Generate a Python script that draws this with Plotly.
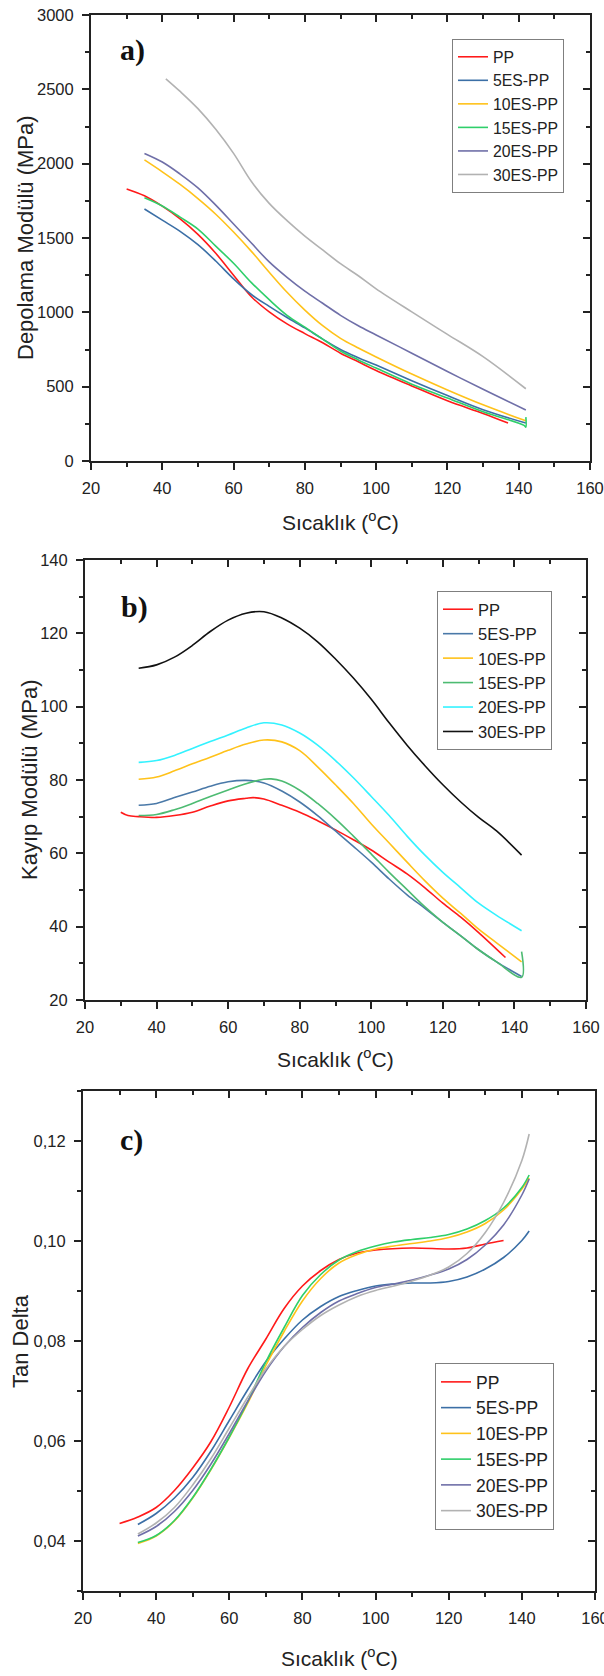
import plotly.graph_objects as go

W, H = 604, 1676

names = ["PP", "5ES-PP", "10ES-PP", "15ES-PP", "20ES-PP", "30ES-PP"]
colors_ac = ["#ff1a1a", "#3b6fa6", "#ffc21a", "#2fcf6a", "#6f6fa8", "#b2b2b2"]
colors_b = ["#ff1a1a", "#4a79a8", "#ffc21a", "#4dbb72", "#33f2ff", "#111111"]

# ---------------- Panel a: Depolama Modülü (MPa) ----------------
a_T_PP = [30, 35, 40, 45, 50, 55, 60, 65, 70, 75, 80, 85, 90, 95, 100, 110, 120, 130, 137]
a_PP = [1830, 1784, 1714, 1628, 1524, 1397, 1250, 1105, 1003, 922, 857, 795, 725, 667, 609, 505, 405, 320, 255]

a_T = [35, 40, 45, 50, 55, 60, 65, 70, 75, 80, 85, 90, 95, 100, 110, 120, 130, 142]
a_5ES = [1695, 1620, 1545, 1455, 1345, 1225, 1120, 1040, 965, 895, 820, 750, 695, 645, 540, 440, 345, 255]
a_10ES = [2025, 1945, 1860, 1765, 1660, 1540, 1410, 1270, 1135, 1015, 910, 825, 760, 700, 585, 478, 378, 270]
a_20ES = [2069, 2011, 1930, 1837, 1721, 1594, 1466, 1339, 1235, 1142, 1061, 980, 910, 848, 725, 602, 482, 343]

a_T_15 = [35, 40, 45, 50, 55, 60, 65, 70, 75, 80, 85, 90, 95, 100, 110, 120, 130, 141.5, 142, 142]
a_15ES = [1770, 1715, 1640, 1560, 1445, 1330, 1200, 1085, 980, 900, 820, 740, 680, 625, 517, 424, 331, 240, 228, 295]

a_T_30 = [41, 45, 50, 55, 60, 65, 70, 75, 80, 85, 90, 95, 100, 110, 120, 130, 142]
a_30ES = [2571, 2486, 2370, 2231, 2069, 1880, 1733, 1617, 1513, 1420, 1327, 1246, 1158, 1003, 852, 702, 486]

# ---------------- Panel b: Kayıp Modülü (MPa) ----------------
b_T_PP = [30, 32, 35, 40, 45, 50, 55, 60, 65, 67, 70, 75, 80, 85, 90, 95, 100, 105, 110, 115, 120, 125, 130, 137.5]
b_PP = [71.2, 70.3, 70.0, 69.8, 70.3, 71.2, 72.9, 74.3, 75.0, 75.2, 74.8, 73.1, 71.2, 68.9, 66.4, 63.7, 60.9, 57.6, 54.4, 50.6, 46.4, 42.6, 38.4, 31.6]

b_T = [35, 40, 45, 50, 55, 60, 65, 70, 75, 80, 85, 90, 95, 100, 105, 110, 115, 120, 125, 130, 135, 142]
b_5ES = [73.1, 73.6, 75.2, 76.7, 78.3, 79.5, 79.9, 79.2, 77.0, 74.0, 70.3, 66.1, 61.9, 57.6, 53.0, 48.7, 45.0, 41.2, 37.5, 33.7, 30.4, 26.4]
b_10ES = [80.2, 80.8, 82.5, 84.4, 86.2, 88.1, 89.8, 90.9, 90.4, 88.0, 83.6, 78.7, 73.6, 68.0, 62.8, 57.6, 52.5, 47.8, 43.6, 39.3, 35.6, 30.4]
b_20ES = [84.8, 85.3, 86.7, 88.6, 90.5, 92.3, 94.2, 95.6, 95.0, 92.8, 89.5, 85.3, 80.6, 75.5, 70.3, 64.7, 59.5, 54.8, 50.6, 46.4, 43.1, 38.9]
b_30ES = [110.5, 111.4, 113.5, 116.7, 120.5, 123.6, 125.5, 125.9, 124.2, 121.4, 117.7, 113.0, 107.8, 102.0, 95.6, 89.5, 83.9, 78.7, 74.0, 69.8, 66.1, 59.5]

b_T_15 = [35, 40, 45, 50, 55, 60, 65, 70, 72, 75, 80, 85, 90, 95, 100, 105, 110, 115, 120, 125, 130, 135, 142, 142]
b_15ES = [70.3, 70.6, 71.9, 73.6, 75.5, 77.3, 79.0, 80.2, 80.3, 79.7, 77.2, 73.6, 69.4, 64.7, 59.8, 54.8, 50.1, 45.4, 41.2, 37.5, 33.7, 30.4, 26.2, 33.2]

# ---------------- Panel c: Tan Delta ----------------
c_T_PP = [30, 35, 40, 45, 50, 55, 60, 65, 70, 75, 80, 85, 90, 95, 100, 110, 120, 125, 130, 135]
c_PP = [0.0435, 0.0448, 0.0467, 0.0501, 0.0546, 0.0599, 0.0668, 0.0744, 0.0804, 0.0865, 0.0910, 0.0941, 0.0963, 0.0976, 0.0982, 0.0986, 0.0984, 0.0986, 0.0994, 0.1001]

c_T = [35, 40, 45, 50, 55, 60, 65, 70, 75, 80, 85, 90, 95, 100, 105, 110, 115, 120, 125, 130, 135, 140, 142]
c_5ES = [0.0433, 0.0455, 0.0486, 0.0527, 0.0580, 0.0641, 0.0702, 0.0759, 0.0804, 0.0842, 0.0869, 0.0889, 0.0901, 0.0910, 0.0914, 0.0916, 0.0916, 0.0919, 0.0928, 0.0944, 0.0967, 0.1001, 0.1020]
c_10ES = [0.0395, 0.0410, 0.0440, 0.0486, 0.0543, 0.0607, 0.0675, 0.0751, 0.0819, 0.0880, 0.0925, 0.0956, 0.0973, 0.0984, 0.0990, 0.0995, 0.1000, 0.1007, 0.1018, 0.1035, 0.1062, 0.1104, 0.1126]
c_15ES = [0.0397, 0.0411, 0.0441, 0.0487, 0.0544, 0.0608, 0.0678, 0.0758, 0.0827, 0.0891, 0.0933, 0.0962, 0.0979, 0.0990, 0.0998, 0.1003, 0.1007, 0.1013, 0.1024, 0.1041, 0.1066, 0.1107, 0.1132]
c_20ES = [0.0410, 0.0429, 0.0459, 0.0501, 0.0554, 0.0615, 0.0679, 0.0740, 0.0789, 0.0827, 0.0857, 0.0880, 0.0895, 0.0907, 0.0914, 0.0922, 0.0932, 0.0944, 0.0963, 0.0992, 0.1032, 0.1092, 0.1124]
c_30ES = [0.0414, 0.0436, 0.0467, 0.0512, 0.0565, 0.0626, 0.0687, 0.0744, 0.0789, 0.0823, 0.0851, 0.0872, 0.0889, 0.0901, 0.0910, 0.0920, 0.0932, 0.0948, 0.0975, 0.1017, 0.1077, 0.1161, 0.1214]

# ---------------- Axis ticks / labels ----------------
x_ticks = [20, 40, 60, 80, 100, 120, 140, 160]
a_yticks = [0, 500, 1000, 1500, 2000, 2500, 3000]
b_yticks = [20, 40, 60, 80, 100, 120, 140]
c_yticks = [0.04, 0.06, 0.08, 0.10, 0.12]

x_title = "Sıcaklık (<sup>o</sup>C)"
y_titles = ["Depolama Modülü (MPa)", "Kayıp Modülü (MPa)", "Tan Delta"]
panel_labels = ["a)", "b)", "c)"]

panels = [
    dict(series=[(a_T_PP, a_PP), (a_T, a_5ES), (a_T, a_10ES), (a_T_15, a_15ES), (a_T, a_20ES), (a_T_30, a_30ES)],
         colors=colors_ac, yr=[0, 3000], yticks=a_yticks, ymin=250, fmt="d",
         px=(91, 590), py=(15, 461), leg=(452, 39), legfs=15.8, lab=(118, 50), ytx=25, xty=521),
    dict(series=[(b_T_PP, b_PP), (b_T, b_5ES), (b_T, b_10ES), (b_T_15, b_15ES), (b_T, b_20ES), (b_T, b_30ES)],
         colors=colors_b, yr=[20, 140], yticks=b_yticks, ymin=10, fmt="d",
         px=(85, 586), py=(560, 1000), leg=(437, 591), legfs=16.5, lab=(119, 607), ytx=29, xty=1058),
    dict(series=[(c_T_PP, c_PP), (c_T, c_5ES), (c_T, c_10ES), (c_T, c_15ES), (c_T, c_20ES), (c_T, c_30ES)],
         colors=colors_ac, yr=[0.03, 0.13], yticks=c_yticks, ymin=0.01, fmt=".2f",
         px=(83, 595), py=(1091, 1591), leg=(435, 1363), legfs=17.5, lab=(118, 1140), ytx=20, xty=1657),
]

fig = go.Figure()
layout = dict(template="none", width=W, height=H, margin=dict(l=0, r=0, t=0, b=0, autoexpand=False),
              paper_bgcolor="white", plot_bgcolor="white", separators=",.",
              showlegend=True, annotations=[])

tickfont = dict(family="Liberation Sans, Arial, sans-serif", size=16.5, color="#222")
axcol = "#222"

for i, p in enumerate(panels):
    n = i + 1
    xs = "" if n == 1 else str(n)
    xa, ya = "x" + xs, "y" + xs
    ov = str(n + 3)
    legname = "legend" if n == 1 else "legend" + str(n)
    for k, (tx, vy) in enumerate(p["series"]):
        fig.add_trace(go.Scatter(x=tx, y=vy, mode="lines", name=names[k],
                                 line=dict(color=p["colors"][k], width=1.6, shape="spline", smoothing=1.0),
                                 xaxis=xa, yaxis=ya, legend=legname))
    # empty trace hosting the mirrored (inside) tick axes on top/right
    fig.add_trace(go.Scatter(x=[], y=[], xaxis="x" + ov, yaxis="y" + ov, showlegend=False, hoverinfo="skip"))

    xdom = [p["px"][0] / W, p["px"][1] / W]
    ydom = [1 - p["py"][1] / H, 1 - p["py"][0] / H]
    layout["xaxis" + xs] = dict(domain=xdom, range=[20, 160], anchor=ya, tickvals=x_ticks, automargin=False,
                                ticks="outside", ticklen=7, tickwidth=1.5, tickcolor=axcol, ticklabelstandoff=4,
                                ticklabeloverflow="allow",
                                minor=dict(dtick=10, tick0=0, ticks="outside", ticklen=4, tickwidth=1.5, tickcolor=axcol),
                                showline=True, linecolor=axcol, linewidth=2, mirror=True,
                                showgrid=False, zeroline=False, tickfont=tickfont)
    layout["yaxis" + xs] = dict(domain=ydom, range=p["yr"], anchor=xa, tickvals=p["yticks"], automargin=False,
                                tickformat=p["fmt"], ticklabelstandoff=5, ticklabeloverflow="allow",
                                ticks="outside", ticklen=7, tickwidth=1.5, tickcolor=axcol,
                                minor=dict(dtick=p["ymin"], tick0=0, ticks="outside", ticklen=4, tickwidth=1.5, tickcolor=axcol),
                                showline=True, linecolor=axcol, linewidth=2, mirror=True,
                                showgrid=False, zeroline=False, tickfont=tickfont)
    layout["xaxis" + ov] = dict(overlaying=xa, anchor="y" + ov, side="top", range=[20, 160], tickvals=x_ticks,
                                automargin=False,
                                ticks="inside", ticklen=7, tickwidth=1.5, tickcolor=axcol, showticklabels=False,
                                minor=dict(dtick=10, tick0=0, ticks="inside", ticklen=4, tickwidth=1.5, tickcolor=axcol),
                                showline=False, showgrid=False, zeroline=False)
    layout["yaxis" + ov] = dict(overlaying=ya, anchor="x" + ov, side="right", range=p["yr"], tickvals=p["yticks"],
                                automargin=False,
                                ticks="inside", ticklen=7, tickwidth=1.5, tickcolor=axcol, showticklabels=False,
                                minor=dict(dtick=p["ymin"], tick0=0, ticks="inside", ticklen=4, tickwidth=1.5, tickcolor=axcol),
                                showline=False, showgrid=False, zeroline=False)
    layout[legname] = dict(x=p["leg"][0] / W, y=1 - p["leg"][1] / H, xanchor="left", yanchor="top",
                           bgcolor="white", bordercolor="#7f7f7f", borderwidth=1,
                           font=dict(family="Liberation Sans, Arial, sans-serif", size=p["legfs"], color="#222"),
                           tracegroupgap=0)
    # panel letter
    layout["annotations"].append(dict(text=panel_labels[i], xref="paper", yref="paper",
                                      x=p["lab"][0] / W, y=1 - p["lab"][1] / H, xanchor="left", yanchor="middle",
                                      showarrow=False,
                                      font=dict(family="Liberation Serif, Times New Roman, serif", size=30,
                                                color="#111", weight="bold")))
    # axis titles
    layout["annotations"].append(dict(text=x_title, xref="paper", yref="paper",
                                      x=(p["px"][0] + p["px"][1]) / 2 / W, y=1 - p["xty"] / H,
                                      xanchor="center", yanchor="middle", showarrow=False,
                                      font=dict(family="Liberation Sans, Arial, sans-serif", size=21, color="#222")))
    layout["annotations"].append(dict(text=y_titles[i], xref="paper", yref="paper", textangle=-90,
                                      x=p["ytx"] / W, y=1 - (p["py"][0] + p["py"][1]) / 2 / H,
                                      xanchor="center", yanchor="middle", showarrow=False,
                                      font=dict(family="Liberation Sans, Arial, sans-serif", size=22, color="#222")))

fig.update_layout(**layout)
fig.write_html("out.html", config={"displayModeBar": False},
               post_script="document.body.style.margin='0px';document.body.style.overflow='hidden';")
